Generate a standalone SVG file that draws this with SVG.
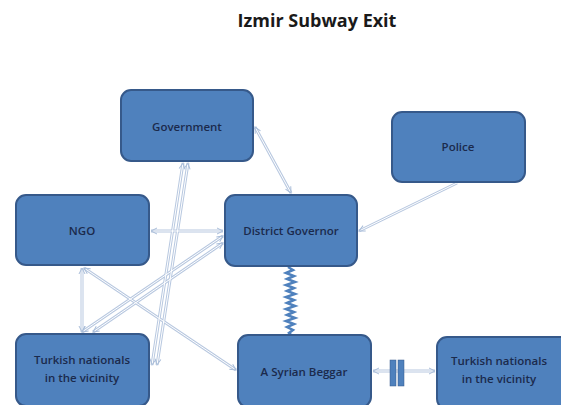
<svg xmlns="http://www.w3.org/2000/svg" width="561" height="405" viewBox="0 0 561 405">
<defs>
<marker id="ah" viewBox="0 0 8 8" refX="7" refY="4" markerWidth="8" markerHeight="8" markerUnits="userSpaceOnUse" orient="auto-start-reverse">
<path d="M1,1 L7,4 L1,7" fill="none" stroke="#a9bdd9" stroke-width="1"/>
</marker>
<style>
.box{fill:#4f81bd;stroke:#36598a;stroke-width:2}
.lbl{font-family:"Open Sans","Liberation Sans",sans-serif;font-size:11.5px;font-weight:600;fill:#1b2a4c;text-anchor:middle}
.c{fill:none;stroke:#b8c8e0;stroke-width:3}
.ci{fill:none;stroke:#ffffff;stroke-width:1}
</style>
</defs>
<rect width="561" height="405" fill="#ffffff"/>
<text x="317" y="27" font-family="Open Sans,Liberation Sans,sans-serif" font-weight="bold" font-size="18" text-anchor="middle" fill="#1a1a1a">Izmir Subway Exit</text>
<g id="connectors">
<g class="c">
<line x1="255" y1="127" x2="291" y2="193"/>
<line x1="457" y1="183" x2="359" y2="231"/>
<line x1="151" y1="231" x2="223" y2="231"/>
<line x1="82" y1="268" x2="82" y2="332"/>
<line x1="84" y1="268" x2="236" y2="370"/>
<line x1="223" y1="236" x2="82" y2="332"/>
<line x1="223" y1="243" x2="93" y2="332"/>
<line x1="183" y1="163" x2="152" y2="365"/>
<line x1="188" y1="163" x2="157" y2="365"/>
<line x1="373" y1="371" x2="435" y2="371"/>
</g>
<g class="ci" marker-start="url(#ah)" marker-end="url(#ah)">
<line x1="255" y1="127" x2="291" y2="193"/>
<line x1="457" y1="183" x2="359" y2="231" marker-start="none"/>
<line x1="151" y1="231" x2="223" y2="231"/>
<line x1="82" y1="268" x2="82" y2="332"/>
<line x1="84" y1="268" x2="236" y2="370"/>
<line x1="223" y1="236" x2="82" y2="332"/>
<line x1="223" y1="243" x2="93" y2="332"/>
<line x1="183" y1="163" x2="152" y2="365"/>
<line x1="188" y1="163" x2="157" y2="365"/>
<line x1="373" y1="371" x2="435" y2="371"/>
</g>
<polyline points="288,267 293,270 286,273 294,276 287,279 295,282 286,285 294,288 287,291 295,294 286,297 294,300 287,303 295,306 286,309 294,312 287,315 295,318 286,321 294,324 287,327 293,330 289,333 291,335" fill="none" stroke="#4f81bd" stroke-width="2.5"/>
<rect x="390" y="360" width="6" height="26" fill="#4f81bd" stroke="#36598a" stroke-width="0.5"/>
<rect x="398" y="360" width="6" height="26" fill="#4f81bd" stroke="#36598a" stroke-width="0.5"/>
</g>
<g id="government"><rect class="box" x="121" y="90" width="132" height="71" rx="10"/><text class="lbl" x="187" y="131">Government</text></g>
<g id="police"><rect class="box" x="392" y="112" width="133" height="70" rx="10"/><text class="lbl" x="458" y="151">Police</text></g>
<g id="ngo"><rect class="box" x="16" y="195" width="133" height="70" rx="10"/><text class="lbl" x="82" y="235">NGO</text></g>
<g id="district-governor"><rect class="box" x="225" y="195" width="132" height="71" rx="10"/><text class="lbl" x="291" y="235">District Governor</text></g>
<g id="turkish-left"><rect class="box" x="16" y="334" width="133" height="72" rx="10"/><text class="lbl" x="82" y="364">Turkish nationals</text><text class="lbl" x="82" y="382">in the vicinity</text></g>
<g id="syrian-beggar"><rect class="box" x="238" y="335" width="133" height="72" rx="10"/><text class="lbl" x="304" y="376">A Syrian Beggar</text></g>
<g id="turkish-right"><rect class="box" x="437" y="337" width="133" height="72" rx="10"/><text class="lbl" x="499" y="365">Turkish nationals</text><text class="lbl" x="499" y="383">in the vicinity</text></g>
</svg>
